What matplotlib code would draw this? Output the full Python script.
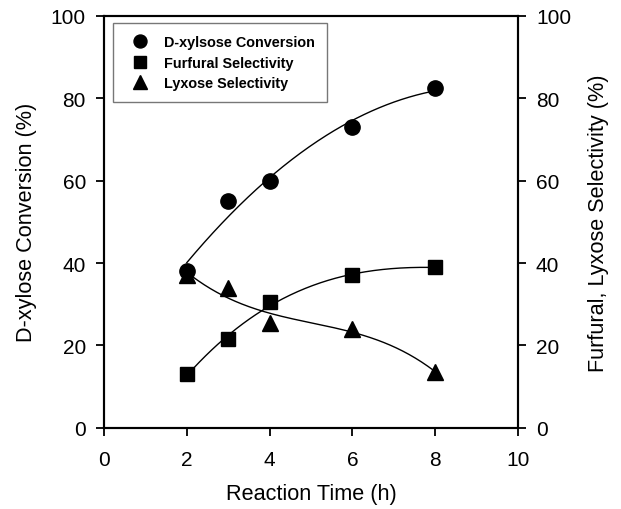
import numpy as np
import matplotlib
matplotlib.use("Agg")
import matplotlib.pyplot as plt

plt.rcParams['font.family'] = ['Liberation Sans', 'DejaVu Sans']

time_h = [2, 3, 4, 6, 8]
xylose_conv = [38, 55, 60, 73, 82.5]
furfural_sel = [13, 21.5, 30.5, 37, 39]
lyxose_sel = [37, 34, 25.5, 24, 13.5]

fig = plt.figure(figsize=(6.21, 5.10), dpi=100)
ax = fig.add_axes([0.1675, 0.159, 0.6665, 0.808])
ax2 = ax.twinx()

xs = np.linspace(2, 8, 200)
c1 = np.polyfit(time_h, xylose_conv, 2)
c2 = np.polyfit(time_h, furfural_sel, 3)
c3 = np.polyfit(time_h, lyxose_sel, 3)

ax.plot(xs, np.polyval(c1, xs), color='black', lw=1)
ax2.plot(xs, np.polyval(c2, xs), color='black', lw=1)
ax2.plot(xs, np.polyval(c3, xs), color='black', lw=1)

h1, = ax.plot(time_h, xylose_conv, 'o', color='black', ms=11, ls='none', label='D-xylsose Conversion')
h2, = ax2.plot(time_h, furfural_sel, 's', color='black', ms=10.3, ls='none', label='Furfural Selectivity')
h3, = ax2.plot(time_h, lyxose_sel, '^', color='black', ms=11.5, ls='none', label='Lyxose Selectivity')

for a in (ax, ax2):
    a.set_xlim(0, 10)
    a.set_ylim(0, 100)
    a.tick_params(direction='out', length=6, width=1.3, labelsize=15, pad=7)
    for s in a.spines.values():
        s.set_linewidth(1.5)
ax.set_xticks([0, 2, 4, 6, 8, 10])
ax.set_yticks([0, 20, 40, 60, 80, 100])
ax2.set_yticks([0, 20, 40, 60, 80, 100])
ax.tick_params(axis='x', pad=10)

ax.set_xlabel('Reaction Time (h)', fontsize=15.6, labelpad=10)
ax.set_ylabel('D-xylose Conversion (%)', fontsize=15.6, labelpad=10)
ax2.set_ylabel('Furfural, Lyxose Selectivity (%)', fontsize=15.6, labelpad=12)

leg = ax.legend(handles=[h1, h2, h3], loc='upper left', bbox_to_anchor=(0.0217, 0.983),
                borderaxespad=0, frameon=True, fancybox=False, edgecolor='#555555',
                prop={'weight': 'bold', 'size': 10.4}, handletextpad=0.7,
                borderpad=0.85, labelspacing=0.45, markerscale=0.85)
leg.get_frame().set_linewidth(1.0)

fig.savefig('out.png', dpi=100)
